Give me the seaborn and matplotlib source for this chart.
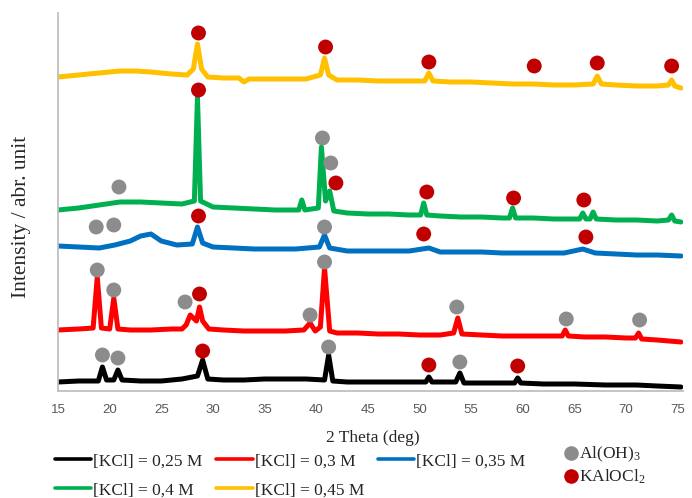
import matplotlib
matplotlib.use("Agg")
import matplotlib.pyplot as plt
import seaborn as sns
import pandas as pd
from matplotlib.lines import Line2D

# ---------------- data (2θ in deg, intensity in arbitrary units) ----------------
labels = ["[KCl] = 0,25 M", "[KCl] = 0,3 M", "[KCl] = 0,35 M", "[KCl] = 0,4 M", "[KCl] = 0,45 M"]
colors = ["#000000", "#ff0000", "#0070c0", "#00b050", "#ffc000"]

x_025 = [15, 17, 18.9, 19.3, 19.7, 20.4, 20.8, 21.2, 23, 25, 27, 28.5, 29.0, 29.5, 31, 33, 35, 37, 39,
         40.8, 41.2, 41.6, 43, 45, 47, 49, 50.6, 50.9, 51.2, 53.5, 53.9, 54.3, 56, 58, 59.2, 59.5, 59.8,
         62, 65, 68, 71, 73, 75.3]
y_025 = [9, 10, 10, 24, 11, 11, 21, 11, 10, 10, 12, 15, 31, 12, 11, 11, 12, 12, 12,
         11, 36, 10, 9, 9, 9, 9, 9, 14, 9, 9, 18, 8, 8, 8, 8, 13, 8,
         7, 7, 6, 6, 5, 4]

x_030 = [15, 17, 18.4, 18.8, 19.2, 20.0, 20.4, 20.8, 22, 24, 26, 27.0, 27.4, 27.8, 28.4, 28.7, 29.0,
         29.6, 31, 33, 35, 37, 38.8, 39.4, 39.9, 40.4, 40.8, 41.3, 42, 44, 46, 48, 50, 52, 53.3, 53.7,
         54.1, 56, 58, 60, 62, 63.8, 64.1, 64.4, 66, 68, 70, 70.9, 71.2, 71.5, 73, 75.3]
y_030 = [61, 62, 63, 114, 63, 62, 93, 62, 61, 61, 62, 62, 66, 76, 70, 84, 70,
         62, 61, 60, 60, 60, 61, 68, 60, 64, 123, 60, 58, 58, 57, 57, 56, 56, 58, 73,
         57, 56, 55, 55, 55, 55, 61, 55, 54, 54, 53, 53, 58, 52, 51, 49]

x_035 = [15, 17, 19, 20.5, 22, 23, 24, 25, 26.5, 28, 28.5, 29, 30, 32, 34, 36, 38, 40.3, 40.8, 41.3,
         43, 45, 47, 49, 50.9, 52, 54, 56, 58, 60, 62, 64, 65.8, 67, 69, 71, 73, 75.3]
y_035 = [145, 144, 143, 146, 150, 155, 157, 150, 146, 147, 164, 148, 144, 143, 142, 142, 142, 144, 156, 143,
         140, 140, 140, 140, 143, 139, 139, 139, 138, 138, 138, 138, 142, 138, 137, 136, 136, 135]

x_040 = [15, 17, 19, 21, 23, 25, 27, 28.2, 28.5, 28.8, 30, 32, 34, 36, 38.3, 38.6, 38.9, 40.2, 40.5,
         40.9, 41.3, 41.7, 43, 45, 47, 49, 50.1, 50.4, 50.7, 52, 54, 56, 58, 58.7, 59.0, 59.3, 61, 63,
         65.5, 65.8, 66.1, 66.5, 66.8, 67.1, 69, 71, 73, 74.1, 74.4, 74.7, 75.3]
y_040 = [181, 183, 186, 189, 189, 188, 187, 190, 294, 190, 184, 183, 182, 181, 181, 191, 181, 183, 244,
         190, 200, 180, 178, 177, 177, 176, 176, 188, 176, 175, 174, 174, 173, 173, 183, 173, 173, 172,
         172, 178, 172, 172, 179, 172, 171, 171, 170, 171, 176, 170, 169]

x_045 = [15, 17, 19, 21, 22.5, 24, 26, 27.5, 28.1, 28.5, 28.9, 29.5, 31, 32.5, 33.0, 33.5, 35, 37, 39,
         40.4, 40.8, 41.2, 42, 44, 46, 48, 50.5, 50.9, 51.3, 53, 55, 57, 59, 61, 63, 65, 66.8, 67.2,
         67.6, 69, 71, 73, 74.1, 74.4, 74.7, 75.3]
y_045 = [314, 316, 318, 320, 320, 319, 317, 316, 322, 347, 322, 314, 313, 313, 309, 312, 312, 312, 312,
         316, 333, 316, 311, 311, 310, 310, 310, 318, 310, 309, 309, 308, 307, 307, 306, 306, 307, 315,
         307, 306, 305, 305, 306, 311, 305, 303]

series_x = [x_025, x_030, x_035, x_040, x_045]
series_y = [y_025, y_030, y_035, y_040, y_045]

# phase markers
aloh_x = [20.9, 40.6, 41.4, 18.7, 20.4, 40.8, 18.8, 20.4, 27.3, 39.4, 40.8, 53.6, 64.2, 71.3,
          19.3, 20.8, 41.2, 53.9]
aloh_y = [204, 253, 228, 164, 166, 164, 121, 101, 89, 76, 129, 84, 72, 71,
          36, 33, 44, 29]
kal_x = [28.6, 40.9, 50.9, 61.1, 67.2, 74.4, 28.6, 41.9, 50.7, 59.1, 65.9, 28.6, 50.4, 66.1,
         28.7, 29.0, 50.9, 59.5]
kal_y = [358, 344, 329, 325, 328, 325, 301, 208, 199, 193, 191, 175, 157, 154,
         97, 40, 26, 25]
phase_labels = ["Al(OH)$_3$", "KAlOCl$_2$"]
phase_colors = ["#8c8c8c", "#c00000"]

x_ticks = [15, 20, 25, 30, 35, 40, 45, 50, 55, 60, 65, 70, 75]

# ---------------- tables ----------------
rows = []
for lab, xs, ys in zip(labels, series_x, series_y):
    for xv, yv in zip(xs, ys):
        rows.append({"theta": xv, "intensity": yv, "sample": lab})
df = pd.DataFrame(rows)

mrows = [{"theta": a, "intensity": b, "phase": phase_labels[0]} for a, b in zip(aloh_x, aloh_y)]
mrows += [{"theta": a, "intensity": b, "phase": phase_labels[1]} for a, b in zip(kal_x, kal_y)]
dfm = pd.DataFrame(mrows)

# ---------------- style ----------------
sns.set_style("white")
plt.rcParams["font.family"] = ["Liberation Serif", "DejaVu Serif"]
plt.rcParams["mathtext.fontset"] = "custom"
plt.rcParams["mathtext.rm"] = "Liberation Serif"
plt.rcParams["mathtext.it"] = "Liberation Serif:italic"

W, H = 692, 498
fig = plt.figure(figsize=(W / 100, H / 100), dpi=100)
ax = fig.add_axes([58 / W, 1 - 391 / H, (683 - 58) / W, (391 - 13) / H])

palette = dict(zip(labels, colors))
sns.lineplot(data=df, x="theta", y="intensity", hue="sample", hue_order=labels,
             palette=palette, estimator=None, sort=False, lw=3.6, legend=False, ax=ax)
sns.scatterplot(data=dfm, x="theta", y="intensity", hue="phase", hue_order=phase_labels,
                palette=dict(zip(phase_labels, phase_colors)), s=115, linewidth=0,
                legend=False, ax=ax, zorder=5)

ax.set_xlim(15, 75.5)
ax.set_ylim(0, 378)
ax.set_xticks(x_ticks)
ax.set_xticklabels([str(t) for t in x_ticks], family=["Liberation Sans", "DejaVu Sans"],
                   fontsize=9.5, color="#595959")
ax.set_yticks([])
ax.tick_params(axis="x", length=0, pad=9)
for s in ["top", "right"]:
    ax.spines[s].set_visible(False)
for s in ["left", "bottom"]:
    ax.spines[s].set_color("#bfbfbf")
    ax.spines[s].set_linewidth(1.3)

ax.set_xlabel("2 Theta (deg)", fontsize=12.5)
ax.xaxis.set_label_coords((373 - 58) / 625, (391 - 430) / 378)
ax.set_ylabel("Intensity / abr. unit", fontsize=15.5, va="center")
ax.yaxis.set_label_coords((22 - 58) / 625, (391 - 217) / 378)

# legends
order = [0, 3, 1, 4, 2]
handles = [Line2D([0], [0], color=colors[i], lw=2.6) for i in order]
fig.legend(handles, [labels[i] for i in order], ncol=3, loc="upper left",
           bbox_to_anchor=(55 / W, 1 - 453 / H), frameon=False, fontsize=12.5,
           handlelength=2.1, handletextpad=0.1, columnspacing=0.8, labelspacing=0.75,
           borderaxespad=0, borderpad=0)

mh = [Line2D([], [], marker="o", ls="", color=c, markersize=10.5, markeredgewidth=0)
      for c in phase_colors]
fig.legend(mh, phase_labels, loc="upper left", bbox_to_anchor=(563 / W, 1 - 445 / H),
           frameon=False, fontsize=12.5, handlelength=0.9, handletextpad=0.05,
           labelspacing=0.2, borderaxespad=0, borderpad=0)

fig.savefig("out.png", dpi=100)
